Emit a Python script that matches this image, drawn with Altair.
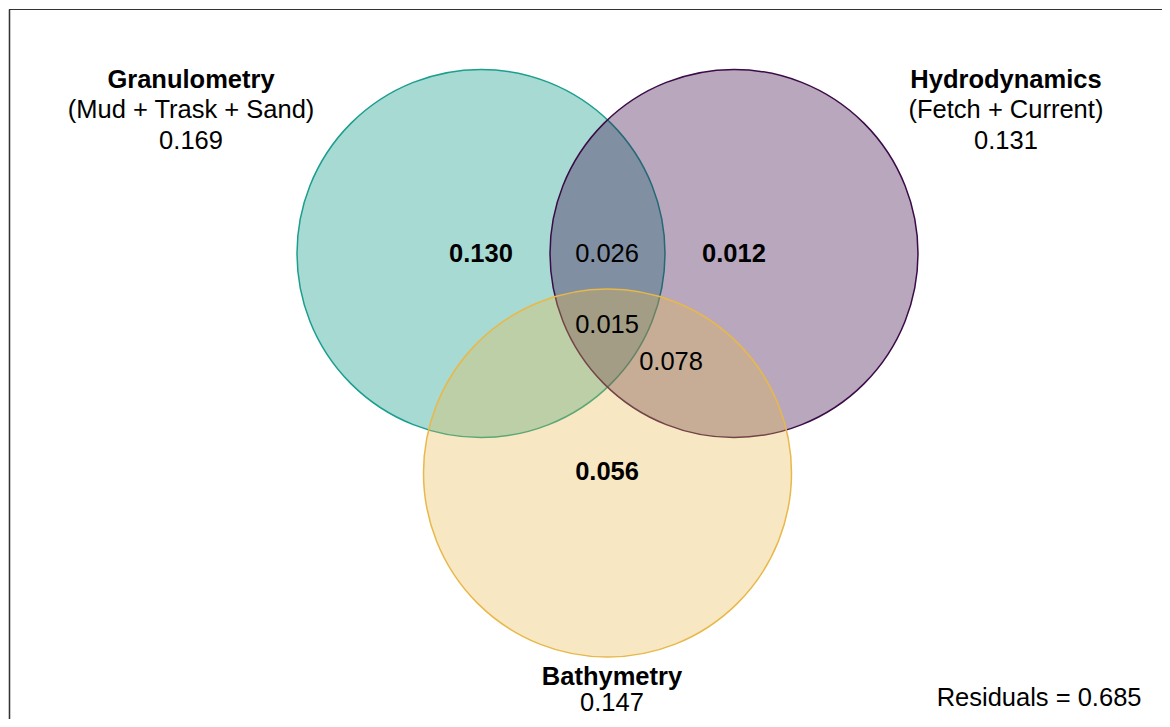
import altair as alt
import pandas as pd

# ---- data ----
set_names = ["Granulometry", "Hydrodynamics", "Bathymetry"]
set_details = ["(Mud + Trask + Sand)", "(Fetch + Current)", ""]
set_totals = ["0.169", "0.131", "0.147"]
set_cx = [0.0, 1.375, 0.6875]      # circle centres, radius = 1 unit
set_cy = [0.0, 0.0, -1.193]
set_edge = ["#1A9E8E", "#3B0B47", "#E8B84A"]
set_fill_opacity = [0.38, 0.36, 0.33]

label_x = [-1.576, 2.853, 0.712]
label_y_first = [0.943, 0.943, -2.302]
label_line = [30.5, 30.5, 26.0]

region_values = ["0.130", "0.026", "0.012", "0.015", "0.078", "0.056"]
region_bold = [True, False, True, False, False, True]
region_x = [0.0, 0.685, 1.375, 0.685, 1.033, 0.685]
region_y = [0.0, 0.0, 0.0, -0.389, -0.590, -1.188]

residual_text = ["Residuals = 0.685"]
residual_x = [3.033]
residual_y = [-2.416]

# ---- layout ----
W, H = 1154, 711
PX = 184.0                      # pixels per unit (circle radius)
x0, y0 = 473.0, 245.5           # pixel position of unit origin in the plot
xdom = [-x0 / PX, (W - x0) / PX]
ydom = [(y0 - H) / PX, y0 / PX]
FONT = "Liberation Sans"
FS = 25.5

xs = alt.Scale(domain=xdom, range=[0, W], nice=False, zero=False)
ys = alt.Scale(domain=ydom, range=[H, 0], nice=False, zero=False)
noax = None

circles = pd.DataFrame({
    "set": set_names, "x": set_cx, "y": set_cy,
    "fo": set_fill_opacity, "ord": [0, 1, 2],
})

circle_layer = alt.Chart(circles).mark_point(
    shape="circle", filled=False, strokeWidth=1.5, strokeOpacity=1, opacity=1,
    size=(2 * PX) ** 2,
).encode(
    x=alt.X("x:Q", scale=xs, axis=noax),
    y=alt.Y("y:Q", scale=ys, axis=noax),
    fill=alt.Fill("set:N", scale=alt.Scale(domain=set_names, range=set_edge), legend=None),
    stroke=alt.Stroke("set:N", scale=alt.Scale(domain=set_names, range=set_edge), legend=None),
    fillOpacity=alt.FillOpacity("fo:Q", scale=None),
    order=alt.Order("ord:Q"),
)

rows = []
for i in range(3):
    line = label_line[i] / PX
    rows.append({"t": set_names[i], "x": label_x[i], "y": label_y_first[i], "b": True})
    k = 1
    if set_details[i]:
        rows.append({"t": set_details[i], "x": label_x[i], "y": label_y_first[i] - line, "b": False})
        k = 2
    rows.append({"t": set_totals[i], "x": label_x[i], "y": label_y_first[i] - k * line, "b": False})
for v, b, x, y in zip(region_values, region_bold, region_x, region_y):
    rows.append({"t": v, "x": x, "y": y, "b": b})
for t, x, y in zip(residual_text, residual_x, residual_y):
    rows.append({"t": t, "x": x, "y": y, "b": False})
labels = pd.DataFrame(rows)

def text_layer(bold):
    return alt.Chart(labels).transform_filter(
        alt.datum.b if bold else ~alt.datum.b
    ).mark_text(
        font=FONT, fontSize=FS, fontWeight="bold" if bold else "normal",
        color="black", align="center", baseline="middle",
    ).encode(
        x=alt.X("x:Q", scale=xs, axis=noax),
        y=alt.Y("y:Q", scale=ys, axis=noax),
        text="t:N",
    )

frame_top = alt.Chart(circles).mark_rule(color="#333333", strokeWidth=1.2).encode(
    x=alt.value(1.5), x2=alt.value(W), y=alt.value(1.5)
)
frame_left = alt.Chart(circles).mark_rule(color="#333333", strokeWidth=1.2).encode(
    x=alt.value(1.5), y=alt.value(1.5), y2=alt.value(H)
)

chart = alt.layer(
    frame_top, frame_left, circle_layer, text_layer(True), text_layer(False)
).properties(
    width=W, height=H, autosize=alt.AutoSizeParams(type="none"),
    padding=0, background="white",
).configure_view(stroke=None)

chart.save("out.html", embed_options={"renderer": "svg", "actions": False})
